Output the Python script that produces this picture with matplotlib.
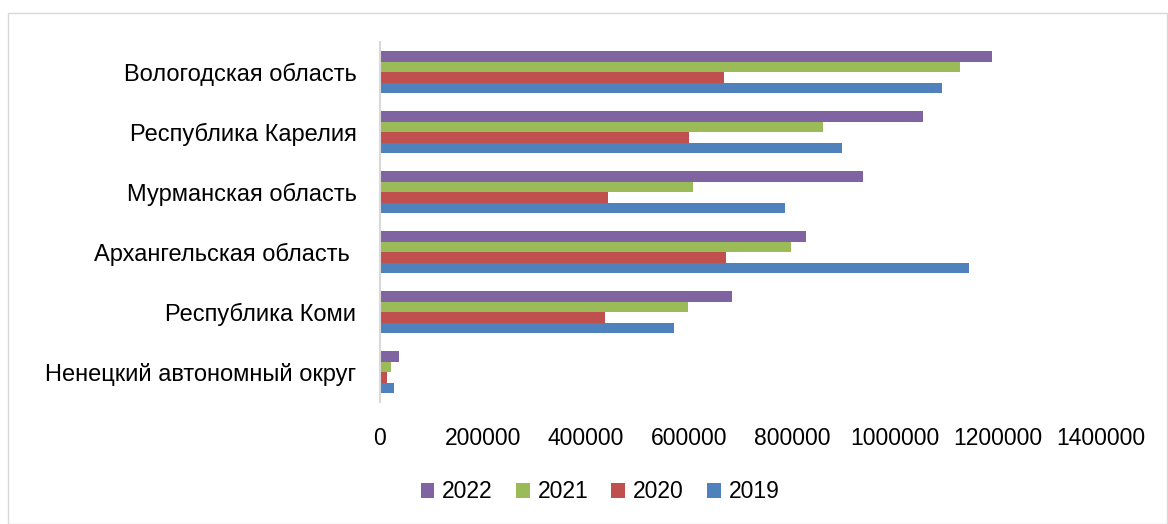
import numpy as np
from matplotlib import pyplot as plt
from matplotlib.patches import Rectangle

regions = ['Ненецкий автономный округ', 'Республика Коми', 'Архангельская область ',
           'Мурманская область', 'Республика Карелия', 'Вологодская область']
v2019 = [27000, 571000, 1144000, 786000, 897000, 1091000]
v2020 = [14000, 437000, 672000, 443000, 600000, 668000]
v2021 = [21000, 598000, 798000, 608000, 860000, 1126000]
v2022 = [37000, 683000, 827000, 938000, 1054000, 1188000]
xticks = [0, 200000, 400000, 600000, 800000, 1000000, 1200000, 1400000]

plt.rcParams['font.family'] = ['Liberation Sans', 'DejaVu Sans']

fig = plt.figure(figsize=(11.68, 5.24), dpi=100)
fig.patches.append(Rectangle((8 / 1168, 0), 1 - 9 / 1168, 1 - 13 / 524, transform=fig.transFigure,
                             fill=False, edgecolor='#d9d9d9', linewidth=1))
ax = fig.add_axes([380 / 1168, 1 - 402 / 524, 721 / 1168, 360 / 524])

y = np.arange(len(regions))
h = 0.175
series = [(v2019, '2019', '#4F81BD'), (v2020, '2020', '#C0504D'),
          (v2021, '2021', '#9BBB59'), (v2022, '2022', '#8064A2')]
for i, (vals, lab, col) in enumerate(series):
    ax.barh(y - 1.5 * h + i * h, vals, height=h, color=col, label=lab)

ax.set_ylim(-0.5, 5.5)
ax.set_xlim(0, 1400000)
ax.set_yticks(y)
ax.set_yticklabels(regions, fontsize=17)
ax.set_xticks(xticks)
ax.set_xticklabels([str(t) for t in xticks], fontsize=16.5)
ax.tick_params(axis='both', length=0)
ax.tick_params(axis='y', pad=17)
ax.tick_params(axis='x', pad=18)
for s in ['top', 'right', 'bottom']:
    ax.spines[s].set_visible(False)
ax.spines['left'].set_color('#d9d9d9')
ax.spines['left'].set_linewidth(1.5)

handles, labels = ax.get_legend_handles_labels()
fig.legend(handles[::-1], labels[::-1], loc='center', bbox_to_anchor=(600 / 1168, 1 - 492 / 524),
           ncol=4, frameon=False, fontsize=16.5, handlelength=0.6, handleheight=0.6,
           handletextpad=0.35, columnspacing=1.0)

plt.savefig('out.png', dpi=100)
